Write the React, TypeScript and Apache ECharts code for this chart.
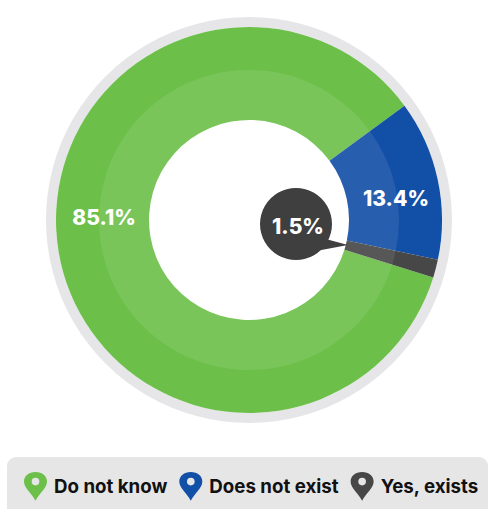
import React, { useEffect, useRef } from "react";
import * as echarts from "echarts";

const categories = ["Do not know", "Does not exist", "Yes, exists"];
const shares = [85.1, 13.4, 1.5];
const colors = ["#6cc04a", "#124fa6", "#474747"];

const FONT = "Inter, 'Open Sans', sans-serif";
const PIN =
  "path://M12 30C8 22 0 17 0 10C0 4 5 0 12 0C19 0 24 4 24 10C24 17 16 22 12 30ZM12 6A4 4 0 0 0 12 14A4 4 0 0 0 12 6Z";

const CENTER: [number, number] = [249, 220];
const pct = (v: number) => `${v}%`;

export default function App() {
  const ref = useRef<HTMLDivElement>(null);

  useEffect(() => {
    const chart = echarts.init(ref.current!, undefined, { renderer: "svg" });
    const slices = categories.map((name, i) => ({ name, value: shares[i] }));
    const valueLabel = (text: string, x: number, y: number) => ({
      type: "text",
      x,
      y,
      z: 30,
      style: {
        text,
        fill: "#ffffff",
        font: `800 21px ${FONT}`,
        align: "center",
        verticalAlign: "middle",
      },
    });

    chart.setOption({
      animation: false,
      backgroundColor: "#ffffff",
      color: colors,
      legend: {
        left: 24,
        top: 472,
        padding: 0,
        icon: PIN,
        itemWidth: 23,
        itemHeight: 29,
        itemGap: 12,
        selectedMode: false,
        data: categories,
        textStyle: {
          color: "#111111",
          fontFamily: FONT,
          fontWeight: 700,
          fontSize: 18.7,
          padding: [0, 0, 0, 2],
        },
      },
      graphic: [
        {
          type: "rect",
          z: -1,
          silent: true,
          shape: { x: 7, y: 457, width: 481, height: 60, r: 9 },
          style: { fill: "#e6e6e6" },
        },
        {
          type: "polygon",
          z: 20,
          silent: true,
          shape: { points: [[322, 238], [348, 245], [316, 251]] },
          style: { fill: "#3f3f3f" },
        },
        {
          type: "circle",
          z: 20,
          silent: true,
          shape: { cx: 296, cy: 224, r: 36 },
          style: { fill: "#3f3f3f" },
        },
        valueLabel(pct(shares[0]), 104, 217),
        valueLabel(pct(shares[1]), 396, 198),
        valueLabel(pct(shares[2]), 298, 226),
      ],
      series: [
        {
          type: "pie",
          silent: true,
          center: CENTER,
          radius: [193, 203],
          label: { show: false },
          labelLine: { show: false },
          itemStyle: { color: "#e6e6e8" },
          data: [{ name: "rim", value: 100 }],
          z: 1,
        },
        {
          type: "pie",
          silent: true,
          center: CENTER,
          radius: [100, 193],
          startAngle: -17.3,
          label: { show: false },
          labelLine: { show: false },
          data: slices,
          z: 2,
        },
        {
          // lighter inner band laid over the same slices
          type: "pie",
          silent: true,
          center: CENTER,
          radius: [100, 150],
          startAngle: -17.3,
          label: { show: false },
          labelLine: { show: false },
          itemStyle: { color: "rgba(255,255,255,0.09)" },
          data: slices,
          z: 3,
        },
      ],
    });
    return () => chart.dispose();
  }, []);

  return (
    <div
      ref={ref}
      style={{ position: "absolute", left: 0, top: 0, width: 489, height: 509 }}
    />
  );
}
